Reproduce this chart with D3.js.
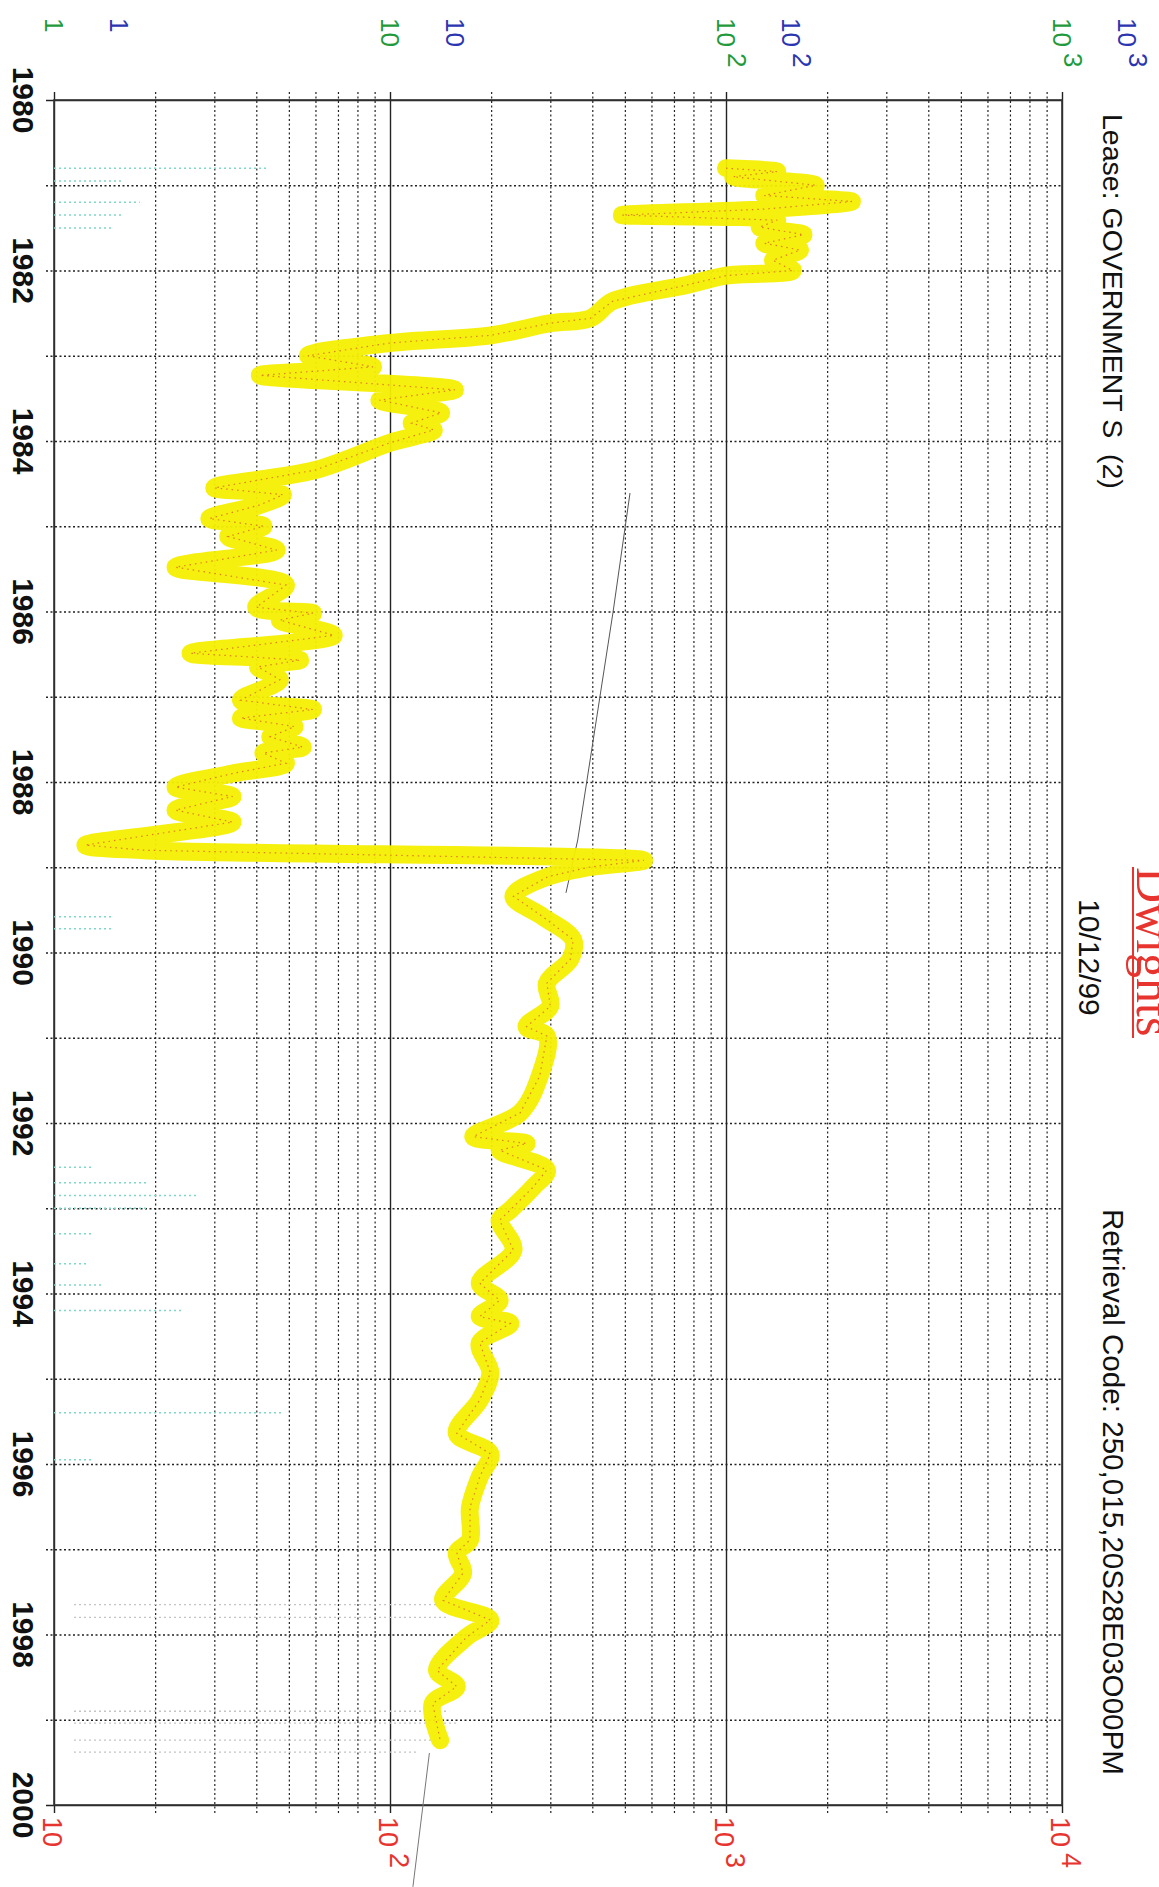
<!DOCTYPE html>
<html>
<head>
<meta charset="utf-8">
<script src="https://cdn.jsdelivr.net/npm/d3@7"></script>
<style>
  body { margin: 0; background: #fff; }
  svg { display: block; font-family: Arial, "Liberation Sans", sans-serif; }
</style>
</head>
<body>
<svg id="chart"></svg>
<script>
// page size (chart is printed sideways: time runs down, values run right)
const width = 1159, height = 1887;
const plotLeft = 54, plotRight = 1062, plotTop = 100, plotBottom = 1805;

// production history (red scale, 10 .. 10^4)
const years = [1980.80, 1980.84, 1980.90, 1981.00, 1981.12, 1981.19, 1981.28, 1981.35, 1981.41, 1981.49,
  1981.58, 1981.68, 1981.76, 1981.88, 1982.00, 1982.06, 1982.17, 1982.36, 1982.56, 1982.62,
  1982.76, 1982.85, 1983.00, 1983.13, 1983.23, 1983.40, 1983.52, 1983.67, 1983.79, 1983.87,
  1984.02, 1984.34, 1984.55, 1984.63, 1984.75, 1984.91, 1985.00, 1985.12, 1985.28, 1985.48,
  1985.69, 1985.95, 1986.02, 1986.10, 1986.28, 1986.49, 1986.57, 1986.65, 1986.80, 1987.04,
  1987.15, 1987.25, 1987.35, 1987.47, 1987.59, 1987.66, 1987.78, 1987.90, 1988.06, 1988.17,
  1988.33, 1988.47, 1988.74, 1988.80, 1988.92, 1989.00, 1989.11, 1989.34, 1989.58, 1989.85,
  1990.08, 1990.36, 1990.63, 1990.87, 1990.98, 1991.45, 1991.88, 1992.16, 1992.24, 1992.32,
  1992.55, 1992.75, 1993.02, 1993.14, 1993.49, 1993.88, 1994.08, 1994.27, 1994.35, 1994.58,
  1994.93, 1995.25, 1995.64, 1995.88, 1996.15, 1996.51, 1996.89, 1997.04, 1997.28, 1997.60,
  1997.83, 1998.03, 1998.42, 1998.61, 1998.81, 1999.24];
const oil = [1000, 1420, 1050, 1850, 1300, 2370, 1300, 490, 1420, 1260,
  1700, 1300, 1660, 1380, 1580, 1000, 765, 460, 395, 298,
  200, 100, 57, 89, 41, 156, 93, 142, 116, 135,
  100, 60, 30, 48, 41, 29, 42, 33, 46, 23,
  49, 40, 59, 47, 68, 25.5, 54, 40.5, 47, 36,
  59, 36, 52, 44, 55, 42, 49, 34, 23, 34,
  23, 34, 12.4, 18.5, 570, 390, 295, 233, 285, 351,
  344, 293, 300, 255, 293, 279, 244, 177, 255, 212,
  293, 267, 228, 212, 233, 185, 212, 185, 228, 185,
  199, 185, 158, 199, 185, 173, 173, 158, 165, 144,
  199, 169, 138, 158, 134, 141];

// faint teal spikes (green scale, 1 .. 10^3)
const waterYears = [1980.80, 1980.95, 1981.20, 1981.35, 1981.50, 1989.58, 1989.72,
  1992.52, 1992.70, 1992.85, 1993.00, 1993.30, 1993.65, 1993.90, 1994.20, 1995.40, 1995.95];
const waterValues = [4.3, 1.6, 1.8, 1.6, 1.5, 1.5, 1.5,
  1.3, 1.9, 2.7, 1.9, 1.3, 1.25, 1.4, 2.4, 4.8, 1.3];

// faint grey spikes near the end (green scale)
const faintYears = [1997.65, 1997.80, 1998.90, 1999.04, 1999.24, 1999.38];
const faintValues = [14, 15, 15, 16, 14, 12];

// hand drawn decline lines (red scale)
const declineYearsA = [1984.61, 1986.01, 1988.68, 1989.30];
const declineValuesA = [518, 461, 362, 334];
const declineYearsB = [1999.39, 2000.96];
const declineValuesB = [131, 117];

// axis labels
const yearLabels = d3.range(1980, 2001, 2);
const redTicks = [10, 100, 1000, 10000];
const greenTicks = [1, 10, 100, 1000];

const svg = d3.select("#chart")
    .attr("width", width)
    .attr("height", height);

// scales
const y = d3.scaleLinear().domain([1980, 2000]).range([plotTop, plotBottom]);
const x = d3.scaleLog().domain([10, 10000]).range([plotLeft, plotRight]);
const xGreen = d3.scaleLog().domain([1, 1000]).range([plotLeft, plotRight]);

// year grid (dotted, ticks poke out on the left)
const yearGrid = svg.append("g")
    .attr("transform", `translate(${plotLeft - 8},0)`)
    .call(d3.axisRight(y).tickValues(d3.range(1980, 2001)).tickSize(plotRight - plotLeft + 8).tickFormat(""));
yearGrid.select(".domain").remove();
yearGrid.selectAll(".tick line")
    .attr("stroke", "#222")
    .attr("stroke-width", 1.3)
    .attr("stroke-dasharray", d => (d === 1980 || d === 2000) ? null : "2,2.5");

// log grid (solid on decades, dotted in between)
const logTicks = x.ticks();
const valueGrid = svg.append("g")
    .attr("transform", `translate(0,${plotTop - 8})`)
    .call(d3.axisBottom(x).tickValues(logTicks).tickSize(plotBottom - plotTop + 16).tickFormat(""));
valueGrid.select(".domain").remove();
valueGrid.selectAll(".tick line")
    .attr("stroke", "#222")
    .attr("stroke-width", d => redTicks.includes(d) ? 1.4 : 1.2)
    .attr("stroke-dasharray", d => redTicks.includes(d) ? null : "2,2.5");

// frame
svg.append("rect")
    .attr("x", plotLeft).attr("y", plotTop)
    .attr("width", plotRight - plotLeft).attr("height", plotBottom - plotTop)
    .attr("fill", "none").attr("stroke", "#333").attr("stroke-width", 1.6);

// faint spikes
const water = d3.zip(waterYears, waterValues);
svg.append("g").selectAll("line")
    .data(water)
    .enter().append("line")
    .attr("x1", xGreen(1)).attr("x2", d => xGreen(d[1]))
    .attr("y1", d => y(d[0])).attr("y2", d => y(d[0]))
    .attr("stroke", "#7fd8c6").attr("stroke-width", 1.5)
    .attr("stroke-dasharray", "2,3");

const faint = d3.zip(faintYears, faintValues);
svg.append("g").selectAll("line")
    .data(faint)
    .enter().append("line")
    .attr("x1", xGreen(1) + 20).attr("x2", d => xGreen(d[1]))
    .attr("y1", d => y(d[0])).attr("y2", d => y(d[0]))
    .attr("stroke", "#c4c4c4").attr("stroke-width", 1.3)
    .attr("stroke-dasharray", "2,3");

// decline lines
const line = d3.line().x(d => x(d[1])).y(d => y(d[0]));
svg.append("path")
    .datum(d3.zip(declineYearsA, declineValuesA))
    .attr("d", line)
    .attr("fill", "none").attr("stroke", "#555").attr("stroke-width", 1);
svg.append("path")
    .datum(d3.zip(declineYearsB, declineValuesB))
    .attr("d", line)
    .attr("fill", "none").attr("stroke", "#777").attr("stroke-width", 1);

// production: yellow highlighter over a thin red dotted trace
const prod = d3.zip(years, oil);
svg.append("path")
    .datum(prod)
    .attr("d", d3.line().x(d => x(d[1])).y(d => y(d[0])).curve(d3.curveCatmullRom))
    .attr("fill", "none")
    .attr("stroke", "#f4ef00")
    .attr("stroke-width", 18)
    .attr("stroke-linejoin", "round")
    .attr("stroke-linecap", "round")
    .attr("opacity", 0.95);
svg.append("path")
    .datum(prod)
    .attr("d", line)
    .attr("fill", "none")
    .attr("stroke", "#d9532b")
    .attr("stroke-width", 1.2)
    .attr("stroke-dasharray", "1.5,4")
    .attr("opacity", 0.7);

// rotated power-of-ten label: "10" plus raised exponent
function powLabel(tx, ty, exp, color, size) {
    const t = svg.append("text")
        .attr("transform", `translate(${tx},${ty}) rotate(90)`)
        .attr("fill", color)
        .attr("font-size", size);
    if (exp === 0) { t.text("1"); return; }
    t.append("tspan").text("10");
    if (exp > 1) t.append("tspan").attr("dx", 6).attr("dy", -11).text(exp);
}

// red value labels along the bottom
redTicks.forEach((v, i) => powLabel(x(v) - 11, plotBottom + 12, i + 1, "#e8342e", 27));

// green and blue labels across the top
greenTicks.forEach((v, i) => {
    powLabel(xGreen(v) - 9, 18, i, "#1f9a3c", 26);
    powLabel(xGreen(v) + 56, 18, i, "#2a35b0", 26);
});

// year labels down the left side
svg.append("g").selectAll("text")
    .data(yearLabels)
    .enter().append("text")
    .attr("transform", d => `translate(13,${y(d)}) rotate(90)`)
    .attr("text-anchor", "middle")
    .attr("font-size", 30)
    .attr("font-weight", "bold")
    .attr("fill", "#111")
    .text(d => d);

// header texts on the right edge
function sideText(tx, ty, str, size) {
    return svg.append("text")
        .attr("transform", `translate(${tx},${ty}) rotate(90)`)
        .attr("font-size", size)
        .attr("fill", "#111")
        .style("white-space", "pre")
        .text(str);
}
sideText(1103, 114, "Lease: GOVERNMENT S  (2)", 28.5);
sideText(1079, 899, "10/12/99", 30);
sideText(1103, 1209, "Retrieval Code: 250,015,20S28E03O00PM", 29.6);

// logo, cut by the page edge as on the printed sheet
svg.append("text")
    .attr("transform", "translate(1137,867) rotate(90)")
    .attr("font-family", "'Liberation Serif', 'DejaVu Serif', serif")
    .attr("font-size", 50)
    .attr("fill", "#e8342e")
    .text("Dwights");
svg.append("line")
    .attr("x1", 1133).attr("x2", 1133)
    .attr("y1", 867).attr("y2", 1038)
    .attr("stroke", "#e8342e").attr("stroke-width", 2);
</script>
</body>
</html>
